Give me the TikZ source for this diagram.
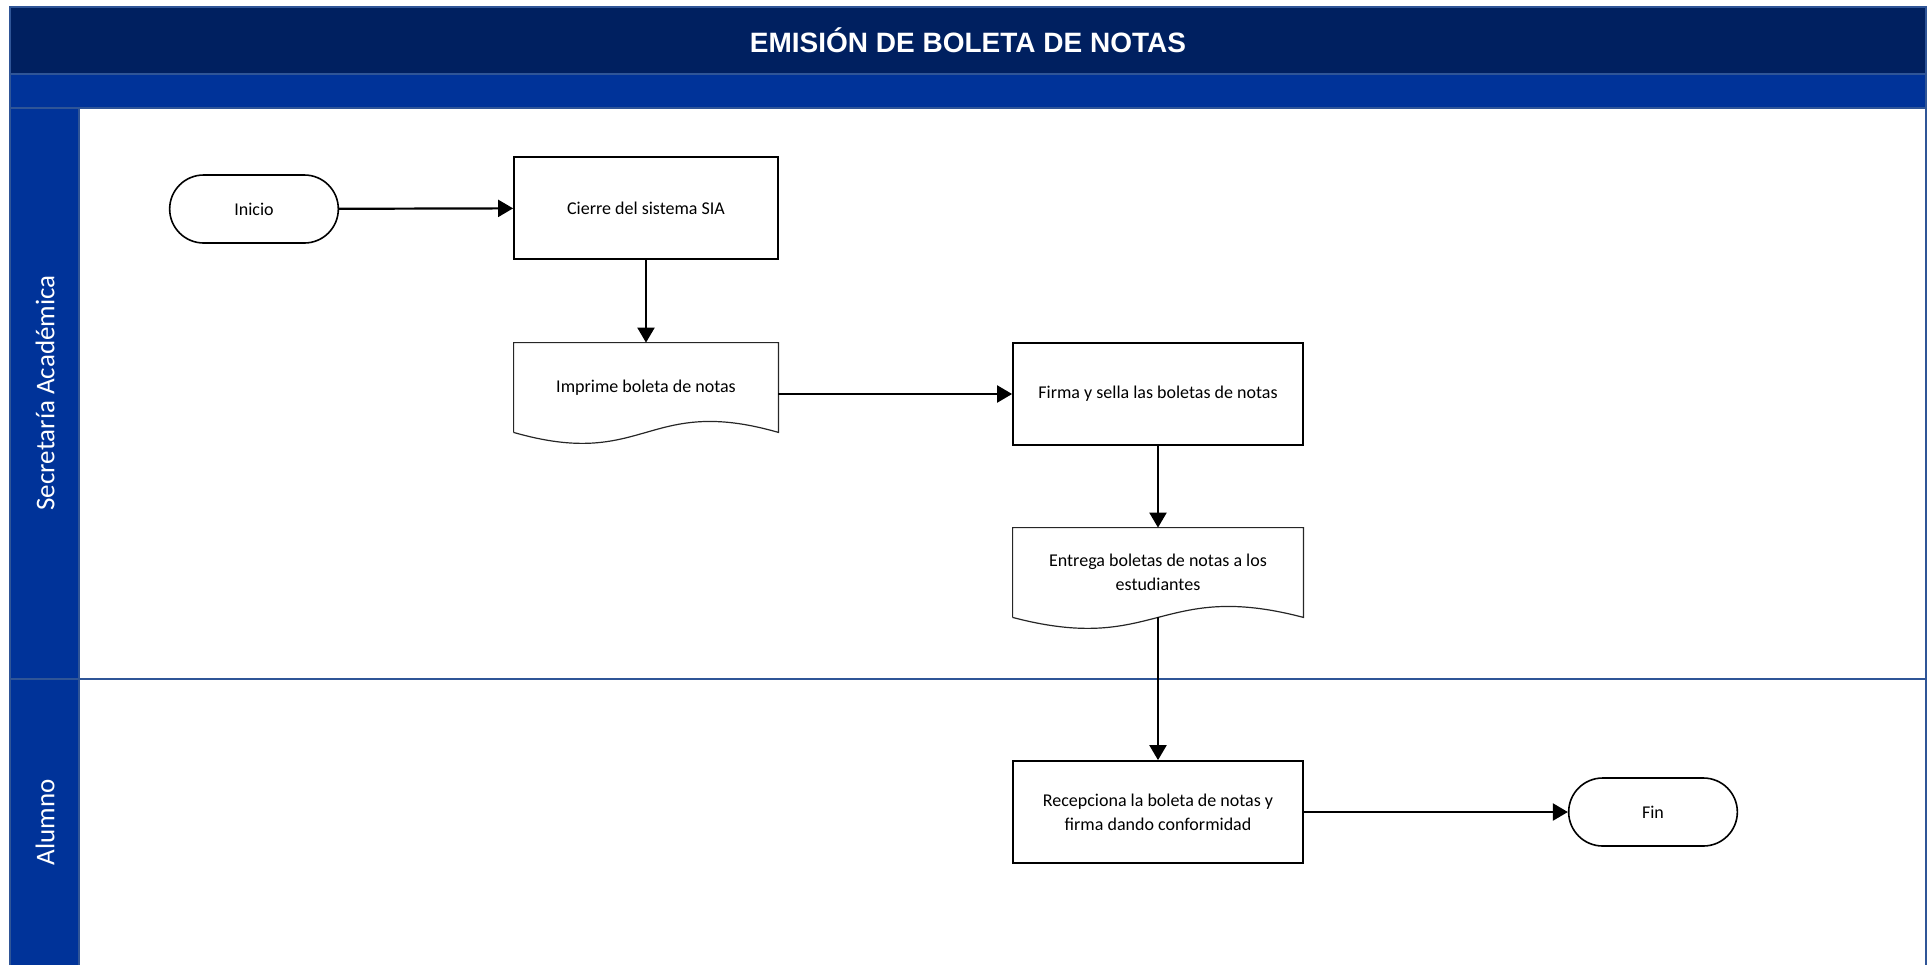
\documentclass[tikz,border=0pt]{standalone}
\usepackage{fontspec}
\setmainfont{Carlito}
\newfontfamily\titlefont{Liberation Sans}
\usetikzlibrary{arrows.meta,shapes.misc}
\definecolor{navy}{RGB}{0,32,96}
\definecolor{laneblue}{RGB}{0,51,153}
\definecolor{edgeblue}{RGB}{47,85,151}
\tikzset{
  proc/.style={draw, line width=0.9pt, minimum width=132pt, minimum height=51pt,
    align=center, font=\fontsize{9}{12}\selectfont},
  docu/.style={minimum width=132pt, minimum height=44.5pt, align=center,
    font=\fontsize{9}{12}\selectfont},
  term/.style={draw, rounded rectangle, line width=0.8pt, minimum width=91pt,
    minimum height=34pt, font=\fontsize{9}{12}\selectfont},
  arr/.style={-{Triangle[length=7.5pt,width=8.5pt]}, line width=1.1pt},
  lanelabel/.style={rotate=90, text=white, font=\fontsize{13.5}{16}\selectfont}
}
\begin{document}
\begin{tikzpicture}[x=0.5pt,y=-0.5pt]
\useasboundingbox (0,0) rectangle (1927,965);
% Pool and lanes
\fill[navy] (10,7) rectangle (1926,74);
\fill[laneblue] (10,74) rectangle (1926,108);
\fill[laneblue] (10,108) rectangle (79,965);
\draw[edgeblue, line width=1pt] (10,965) -- (10,7) -- (1926,7) -- (1926,965);
\draw[edgeblue, line width=1pt] (10,74) -- (1926,74);
\draw[edgeblue, line width=1pt] (10,108) -- (1926,108);
\draw[edgeblue, line width=1pt] (79,108) -- (79,965);
\draw[edgeblue, line width=1.2pt] (10,679) -- (1926,679);
\node[text=white, font=\titlefont\bfseries\fontsize{14}{17}\selectfont] (title) at (968,40) {EMISIÓN DE BOLETA DE NOTAS};
\node[lanelabel] (lane1) at (45,393) {Secretaría Académica};
\node[lanelabel] (lane2) at (45,822) {Alumno};
% Steps
\node[term] (inicio) at (254,209) {Inicio};
\node[proc] (cierre) at (646,208) {Cierre del sistema SIA};
\node[docu] (imp) at (646,387.5) {Imprime boleta de notas};
\node[proc, minimum width=145pt] (firma) at (1158,394) {Firma y sella las boletas de notas};
\node[docu, minimum width=145pt] (ent) at (1158,572.5) {Entrega boletas de notas a los\\estudiantes};
\node[proc, minimum width=145pt] (recep) at (1158,812) {Recepciona la boleta de notas y\\firma dando conformidad};
\node[term] (fin) at (1653,812) {Fin};
% Document outlines
\draw[line width=0.6pt, black!85] (imp.south west) -- (imp.north west) -- (imp.north east) -- (imp.south east)
    .. controls +(-66pt,19pt) and +(66pt,-19pt) .. (imp.south west);
\draw[line width=0.6pt, black!85] (ent.south west) -- (ent.north west) -- (ent.north east) -- (ent.south east)
    .. controls +(-72pt,19pt) and +(72pt,-19pt) .. (ent.south west);
% Flow
\draw[arr] (inicio) -- (cierre);
\draw[arr] (cierre) -- (imp);
\draw[arr] (imp.east |- firma.west) -- (firma.west);
\draw[arr] (firma) -- (ent);
\draw[arr] (ent.south) -- (recep);
\draw[arr] (recep) -- (fin);
\end{tikzpicture}
\end{document}
